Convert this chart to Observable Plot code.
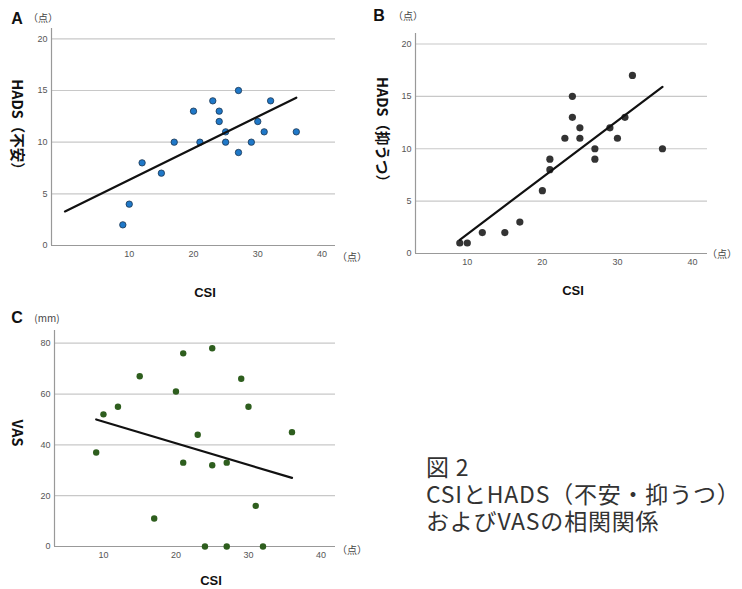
<!DOCTYPE html>
<html><head><meta charset="utf-8">
<script src="https://cdn.jsdelivr.net/npm/d3@7"></script>
<script src="https://cdn.jsdelivr.net/npm/@observablehq/plot@0.6"></script>
<style>
body{margin:0;background:#fff;width:742px;height:589px;position:relative;overflow:hidden;font-family:"Noto Sans CJK JP","Noto Sans",sans-serif;}
.abs{position:absolute;white-space:nowrap;line-height:1;transform:translate(-50%,-50%);}
.panel{position:absolute;}
.letter{font-family:"Liberation Sans",Arial,sans-serif;font-weight:bold;font-size:16px;color:#111;}
.unit{font-size:10px;color:#444;}
.ytitle{font-family:"Noto Sans CJK JP",sans-serif;font-weight:bold;font-size:14.5px;color:#111;transform:translate(-50%,-50%) rotate(90deg);}
.xtitle{font-family:"Liberation Sans",Arial,sans-serif;font-weight:bold;font-size:13px;color:#111;}
.cap{position:absolute;left:426px;font-size:23px;line-height:1;letter-spacing:0.8px;color:#333;font-family:"Noto Sans CJK JP",sans-serif;white-space:nowrap;}
</style>
</head><body>
<div id="root"></div>
<script>
// ---- data ----
const csiA = [9,10,12,15,17,20,21,23,24,24,25,25,27,27,29,30,31,32,36];
const anxA = [2,4,8,7,10,13,10,14,13,12,11,10,15,9,10,12,11,14,11];
const fitAx = [0,36];
const fitAy = [3.3,14.3];

const csiB = [9,10,12,15,17,20,21,21,23,24,24,25,25,27,27,29,30,31,32,36];
const depB = [1,1,2,2,3,6,8,9,11,15,13,12,11,10,9,12,11,13,17,10];
const fitBx = [9,36];
const fitBy = [1.3,15.9];

const csiC = [9,10,12,15,17,20,21,21,23,24,25,25,27,27,29,30,31,32,36];
const vasC = [37,52,55,67,11,61,76,33,44,0,78,32,33,0,66,55,16,0,45];
const fitCx = [9,36];
const fitCy = [50,27];

const xTicks = [10,20,30,40];
const yTicksHADS = [0,5,10,15,20];
const yTicksVAS = [0,20,40,60,80];

const panelLetters = ["A","B","C"];
const yTitles = ["HADS（不安）","HADS（抑うつ）","VAS"];
const yUnits = ["（点）","（点）","(mm)"];
const xTitle = "CSI";
const xUnit = "（点）";
const captionLines = ["図 2","CSIとHADS（不安・抑うつ）","およびVASの相関関係"];

function zip(xs, ys){ return xs.map((x,i)=>({x, y: ys[i]})); }

function scatter(o){
  return Plot.plot({
    width:o.width, height:o.height,
    marginLeft:o.ml, marginRight:o.mr, marginTop:o.mt, marginBottom:o.mb,
    x:{domain:o.xDomain}, y:{domain:o.yDomain},
    style:{fontFamily:"Liberation Sans, Arial, sans-serif", fontSize:"9px", color:"#555", background:"transparent", overflow:"visible"},
    marks:[
      Plot.gridY(o.yTicks.filter(t=>t>0), {stroke:"#c8c8c8", strokeOpacity:1, strokeWidth:1.2}),
      Plot.ruleY([o.yDomain[0]], {stroke:"#999", strokeWidth:1.2}),
      Plot.ruleX([o.xDomain[0]], {stroke:"#999", strokeWidth:1.2}),
      Plot.axisX(xTicks, {tickSize:0, tickPadding:5, label:null, fill:"#555"}),
      Plot.axisY(o.yTicks, {tickSize:0, tickPadding:4, label:null, fill:"#555"}),
      Plot.dot(o.data, {x:"x", y:"y", r:o.r, fill:o.fill, stroke:o.stroke, strokeWidth:o.sw}),
      Plot.line(o.fit, {x:"x", y:"y", stroke:"#111", strokeWidth:2.2})
    ]
  });
}

const root = document.getElementById("root");
function place(el, left, top){ const d=document.createElement("div"); d.className="panel"; d.style.left=left+"px"; d.style.top=top+"px"; d.appendChild(el); root.appendChild(d); }
function label(text, cls, cx, cy){ const d=document.createElement("div"); d.className="abs "+cls; d.textContent=text; d.style.left=cx+"px"; d.style.top=cy+"px"; root.appendChild(d); }

place(scatter({width:360,height:300,ml:51,mr:25,mt:28,mb:55,xDomain:[-2.1,42.1],yDomain:[0,21],yTicks:yTicksHADS,
  data:zip(csiA,anxA), fit:zip(fitAx,fitAy), r:3.2, fill:"#1f78c8", stroke:"#1b3550", sw:0.8}), 0, 0);
place(scatter({width:382,height:300,ml:55,mr:35,mt:33,mb:47,xDomain:[3.1,42],yDomain:[0,21],yTicks:yTicksHADS,
  data:zip(csiB,depB), fit:zip(fitBx,fitBy), r:3.6, fill:"#333", stroke:"none", sw:0}), 360, 0);
place(scatter({width:360,height:289,ml:54,mr:25,mt:30,mb:43,xDomain:[3.25,42],yDomain:[0,85],yTicks:yTicksVAS,
  data:zip(csiC,vasC), fit:zip(fitCx,fitCy), r:3.2, fill:"#2e5e1e", stroke:"none", sw:0}), 0, 300);

// panel A texts
label(panelLetters[0], "letter", 17, 19);
label(yUnits[0], "unit", 43, 18);
label(yTitles[0], "ytitle", 18, 128);
label(xTitle, "xtitle", 205, 292);
label(xUnit, "unit", 352, 257);
// panel B texts
label(panelLetters[1], "letter", 379, 16);
label(yUnits[1], "unit", 408, 16);
label(yTitles[1], "ytitle", 383, 133);
label(xTitle, "xtitle", 573, 290);
label(xUnit, "unit", 722, 254);
// panel C texts
label(panelLetters[2], "letter", 17, 318);
label(yUnits[2], "unit", 47, 318);
label(yTitles[2], "ytitle", 18, 433);
label(xTitle, "xtitle", 211, 580);
label(xUnit, "unit", 352, 550);

// caption
captionLines.forEach((t,i)=>{
  const d=document.createElement("div"); d.className="cap"; d.textContent=t;
  d.style.top=(455 + i*27)+"px"; root.appendChild(d);
});
</script>
</body></html>
